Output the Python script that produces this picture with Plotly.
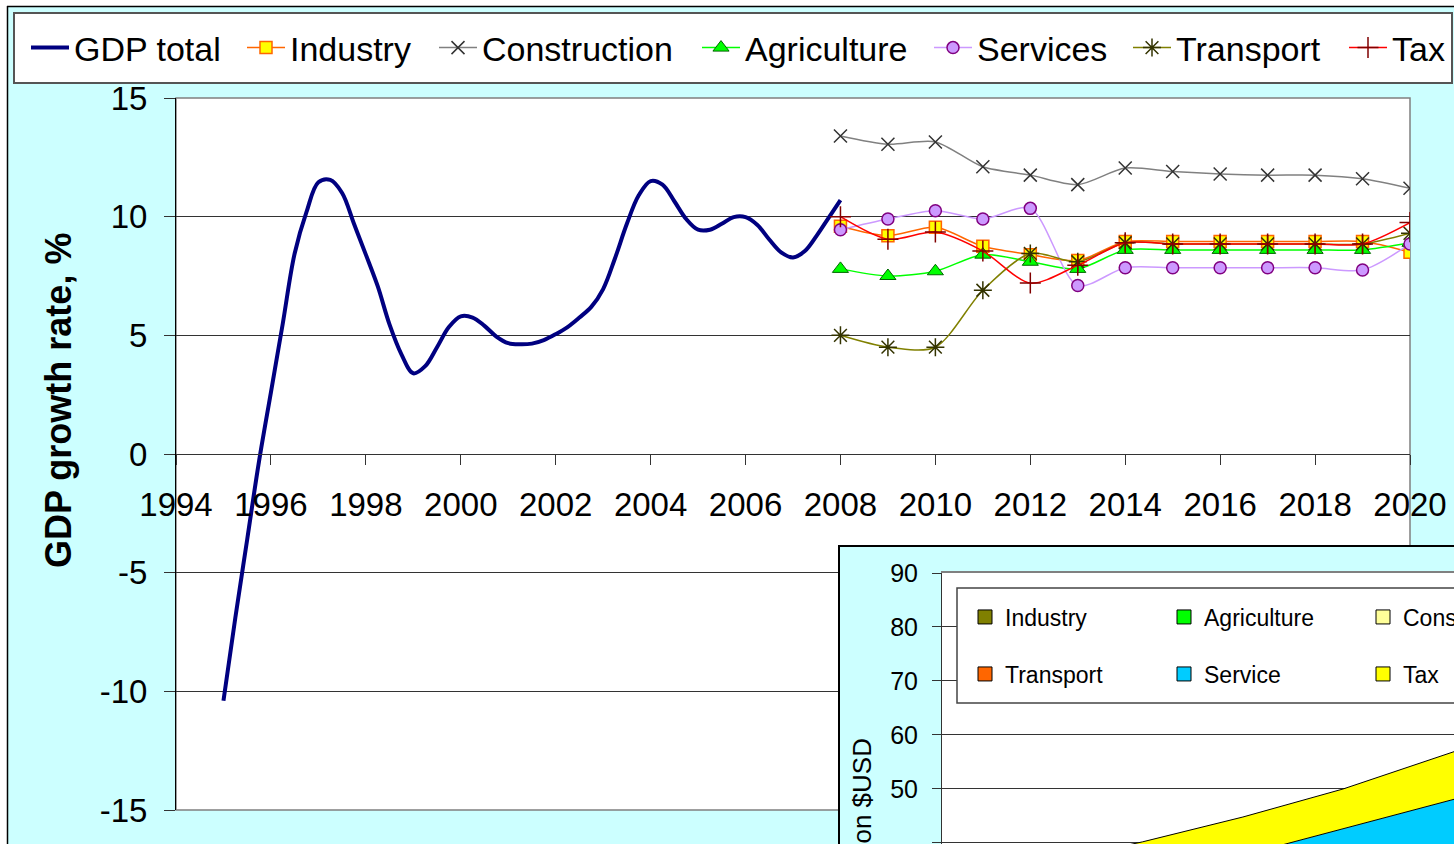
import plotly.graph_objects as go

W, H = 1454, 844
FONT = "Liberation Sans, Arial, sans-serif"

# ---------------- main chart data ----------------
gdp_years = [1995.0, 1995.25, 1995.5, 1995.75, 1996.0, 1996.25, 1996.5, 1996.75,
             1997.0, 1997.25, 1997.5, 1997.75, 1998.0, 1998.25, 1998.5, 1998.75,
             1999.0, 1999.25, 1999.5, 1999.75, 2000.0, 2000.25, 2000.5, 2000.75,
             2001.0, 2001.25, 2001.5, 2001.75, 2002.0, 2002.25, 2002.5, 2002.75,
             2003.0, 2003.25, 2003.5, 2003.75, 2004.0, 2004.25, 2004.5, 2004.75,
             2005.0, 2005.25, 2005.5, 2005.75, 2006.0, 2006.25, 2006.5, 2006.75,
             2007.0, 2007.25, 2007.5, 2007.75, 2008.0]
gdp_total = [-10.4, -6.9, -3.6, -0.3, 2.6, 5.5, 8.45, 10.2,
             11.45, 11.55, 11.0, 9.7, 8.4, 7.07, 5.45, 4.2,
             3.4, 3.7, 4.5, 5.35, 5.8, 5.75, 5.4, 4.95,
             4.67, 4.62, 4.65, 4.8, 5.05, 5.35, 5.75, 6.2,
             6.95, 8.25, 9.7, 10.9, 11.5, 11.35, 10.65, 9.9,
             9.45, 9.45, 9.7, 9.98, 9.98, 9.65, 9.04, 8.5,
             8.28, 8.55, 9.2, 9.95, 10.7]

sector_years = [2008, 2009, 2010, 2011, 2012, 2013, 2014, 2015, 2016, 2017, 2018, 2019, 2020]
industry     = [9.6, 9.2, 9.55, 8.75, 8.4, 8.15, 8.95, 8.95, 8.95, 8.95, 8.95, 8.95, 8.5]
construction = [13.4, 13.05, 13.15, 12.1, 11.75, 11.35, 12.05, 11.9, 11.8, 11.75, 11.75, 11.6, 11.2]
agriculture  = [7.8, 7.5, 7.7, 8.4, 8.1, 7.8, 8.6, 8.6, 8.6, 8.6, 8.6, 8.6, 8.9]
services     = [9.45, 9.9, 10.25, 9.9, 10.35, 7.1, 7.85, 7.85, 7.85, 7.85, 7.85, 7.75, 8.85]
transport    = [5.0, 4.5, 4.5, 6.9, 8.45, 8.1, 8.9, 8.85, 8.85, 8.85, 8.85, 8.85, 9.3]
tax          = [10.0, 9.05, 9.35, 8.55, 7.2, 7.95, 8.9, 8.85, 8.85, 8.85, 8.85, 8.85, 9.75]
x_ticks = [1994, 1996, 1998, 2000, 2002, 2004, 2006, 2008, 2010, 2012, 2014, 2016, 2018, 2020]
y_ticks = [-15, -10, -5, 0, 5, 10, 15]
y_tick_text = ["-15", "-10", "-5", "0", "5", "10", "15"]

# ---------------- inset chart data (billion $USD, stacked) ----------------
inset_years = [2008, 2009, 2010, 2011, 2012, 2013, 2014]
in_industry     = [8.0, 8.6, 9.4, 10.2, 11.1, 12.1, 13.2]
in_agriculture  = [6.0, 6.4, 6.9, 7.4, 8.0, 8.6, 9.3]
in_construction = [3.0, 3.3, 3.7, 4.1, 4.6, 5.1, 5.7]
in_transport    = [3.0, 3.1, 3.3, 3.5, 3.8, 4.1, 4.4]
in_service      = [10.0, 11.1, 11.7, 12.5, 15.1, 17.6, 19.9]
in_tax          = [3.0, 3.7, 5.2, 7.1, 7.4, 8.6, 10.0]
inset_y_ticks = [40, 50, 60, 70, 80, 90]


def px_x(p):
    return p / W


def px_y(p):
    return 1 - p / H


fig = go.Figure()

# main chart traces
fig.add_trace(go.Scatter(x=gdp_years, y=gdp_total, name="GDP total", mode="lines",
                         line=dict(color="#000080", width=4, shape="spline", smoothing=1.0),
                         legendwidth=163))

series = [
    ("Industry", industry, "#FF6600", dict(symbol="square", size=12, color="#FFFF00",
                                           line=dict(color="#FF6600", width=1.5)), 139),
    ("Construction", construction, "#808080", dict(symbol="x-thin-open", size=13, color="#333333",
                                                   line=dict(color="#333333", width=1.5)), 210),
    ("Agriculture", agriculture, "#00FF00", dict(symbol="triangle-up", size=14, color="#00FF00",
                                                 line=dict(color="#006600", width=1)), 179),
    ("Services", services, "#CC99FF", dict(symbol="circle", size=12, color="#CC99FF",
                                           line=dict(color="#800080", width=1.5)), 146),
    ("Transport", transport, "#808000", dict(symbol="asterisk-open", size=15, color="#333300",
                                             line=dict(color="#333300", width=1.5)), 163),
    ("Tax", tax, "#FF0000", dict(symbol="cross-thin-open", size=15, color="#800000",
                                 line=dict(color="#800000", width=1.5)), 60),
]
for name, vals, lc, mk, lw in series:
    fig.add_trace(go.Scatter(x=sector_years, y=vals, name=name, mode="lines+markers",
                             line=dict(color=lc, width=1.5, shape="spline", smoothing=0.8),
                             marker=mk, legendwidth=lw))

# inset chart-area background panel (subplot 2)
fig.add_trace(go.Scatter(x=[0, 1, 1, 0], y=[0, 0, 1, 1], fill="toself", fillcolor="#CCFFFF",
                         mode="lines", line=dict(width=0), showlegend=False, hoverinfo="skip",
                         xaxis="x2", yaxis="y2"))

# inset stacked areas (subplot 3)
inset_series = [
    ("Industry", in_industry, "#808000"),
    ("Agriculture", in_agriculture, "#00FF00"),
    ("Construction", in_construction, "#FFFF99"),
    ("Transport", in_transport, "#FF6600"),
    ("Service", in_service, "#00CCFF"),
    ("Tax", in_tax, "#FFFF00"),
]
for name, vals, col in inset_series:
    fig.add_trace(go.Scatter(x=inset_years, y=vals, name=name, stackgroup="one", mode="lines",
                             line=dict(color="#000000", width=1), fillcolor=col,
                             showlegend=False, xaxis="x3", yaxis="y3"))

# inset legend entries (two rows of three)
legend_rows = {
    "legend2": ["Industry", "Agriculture", "Construction"],
    "legend3": ["Transport", "Service", "Tax"],
}
inset_colors = {n: c for n, _, c in inset_series}
for lg, names in legend_rows.items():
    for n in names:
        fig.add_trace(go.Scatter(x=[None], y=[None], name=n, mode="markers",
                                 marker=dict(symbol="square", size=14, color=inset_colors[n],
                                             line=dict(color="#000000", width=1)),
                                 legend=lg, xaxis="x3", yaxis="y3"))

shapes = [
    # white page margin and outer chart border
    dict(type="rect", xref="paper", yref="paper", x0=0, x1=1, y0=px_y(6), y1=1,
         fillcolor="white", line=dict(width=0), layer="below"),
    dict(type="rect", xref="paper", yref="paper", x0=0, x1=px_x(7), y0=0, y1=1,
         fillcolor="white", line=dict(width=0), layer="below"),
    dict(type="line", xref="paper", yref="paper", x0=px_x(7), x1=1, y0=px_y(6.5), y1=px_y(6.5),
         line=dict(color="black", width=1.5), layer="below"),
    dict(type="line", xref="paper", yref="paper", x0=px_x(7.5), x1=px_x(7.5), y0=0, y1=px_y(6),
         line=dict(color="black", width=1.5), layer="below"),
    # main legend frame
    dict(type="rect", xref="paper", yref="paper", x0=px_x(14), x1=px_x(1452), y0=px_y(83), y1=px_y(13),
         fillcolor="white", line=dict(color="#555555", width=2), layer="below"),
    # main plot frame
    dict(type="rect", xref="paper", yref="paper", x0=px_x(176), x1=px_x(1410), y0=px_y(810), y1=px_y(98),
         line=dict(color="#808080", width=1.5), layer="below"),
    # inset legend frame
    dict(type="rect", xref="paper", yref="paper", x0=px_x(957), x1=px_x(1480), y0=px_y(703), y1=px_y(588),
         fillcolor="white", line=dict(color="#444444", width=1.5), layer="above"),
]

annotations = [
    dict(text="<b>GDP growth rate, %</b>", textangle=-90, x=px_x(58), y=px_y(401),
         xref="paper", yref="paper", showarrow=False, xanchor="center", yanchor="middle",
         font=dict(family=FONT, size=36, color="black")),
    dict(text="Billion $USD", textangle=-90, x=px_x(862), y=px_y(811),
         xref="paper", yref="paper", showarrow=False, xanchor="center", yanchor="middle",
         font=dict(family=FONT, size=26, color="black")),
]

fig.update_layout(
    width=W, height=H,
    margin=dict(l=0, r=0, t=0, b=0, autoexpand=False),
    paper_bgcolor="#CCFFFF", plot_bgcolor="white",
    font=dict(family=FONT, color="black"),
    showlegend=True,
    legend=dict(orientation="h", x=px_x(26), y=px_y(48), xanchor="left", yanchor="middle",
                bgcolor="rgba(0,0,0,0)", borderwidth=0, itemwidth=38, traceorder="normal",
                font=dict(family=FONT, size=34, color="black")),
    legend2=dict(orientation="h", x=px_x(965), y=px_y(617), xanchor="left", yanchor="middle",
                 bgcolor="rgba(0,0,0,0)", borderwidth=0, entrywidth=154, traceorder="normal",
                 font=dict(family=FONT, size=23, color="black")),
    legend3=dict(orientation="h", x=px_x(965), y=px_y(674), xanchor="left", yanchor="middle",
                 bgcolor="rgba(0,0,0,0)", borderwidth=0, entrywidth=154, traceorder="normal",
                 font=dict(family=FONT, size=23, color="black")),
    xaxis=dict(domain=[px_x(176), px_x(1410)], range=[1994, 2020], anchor="free",
               position=px_y(454), tickvals=x_ticks, ticks="outside", ticklen=10,
               tickcolor="#333333", showline=True, linecolor="#333333", linewidth=1,
               showgrid=False, zeroline=False, ticklabelstandoff=11,
               tickfont=dict(family=FONT, size=33, color="black")),
    yaxis=dict(domain=[px_y(810), px_y(98)], range=[-15, 15], tickvals=y_ticks,
               ticktext=y_tick_text,
               ticks="outside", ticklen=11, tickcolor="#333333", showline=True,
               linecolor="black", linewidth=1, showgrid=True, gridcolor="#333333",
               gridwidth=1, zeroline=False, ticklabelstandoff=10,
               tickfont=dict(family=FONT, size=33, color="black")),
    xaxis2=dict(domain=[px_x(840), 1], range=[0, 1], side="top", showline=True,
                linecolor="black", linewidth=1.5, showticklabels=False, showgrid=False,
                zeroline=False, ticks="", fixedrange=True, anchor="y2"),
    yaxis2=dict(domain=[0, px_y(547)], range=[0, 1], side="left", showline=True,
                linecolor="black", linewidth=1.5, showticklabels=False, showgrid=False,
                zeroline=False, ticks="", fixedrange=True, anchor="x2"),
    xaxis3=dict(domain=[px_x(942), 1], range=[2008, 2008 + 512 / 100.3], side="top",
                showline=True, linecolor="#808080", linewidth=1.5, showticklabels=False,
                showgrid=False, zeroline=False, ticks="", anchor="y3"),
    yaxis3=dict(domain=[0, px_y(573)], range=[39.8, 90], tickvals=inset_y_ticks,
                ticks="outside", ticklen=9, tickcolor="#333333", showline=True,
                linecolor="#333333", linewidth=1, showgrid=True, gridcolor="#333333",
                gridwidth=1, zeroline=False, ticklabelstandoff=9, anchor="x3",
                tickfont=dict(family=FONT, size=25, color="black")),
    shapes=shapes,
    annotations=annotations,
)

fig.write_html("out.html", config={"displayModeBar": False},
               post_script="document.body.style.margin='0px';")
